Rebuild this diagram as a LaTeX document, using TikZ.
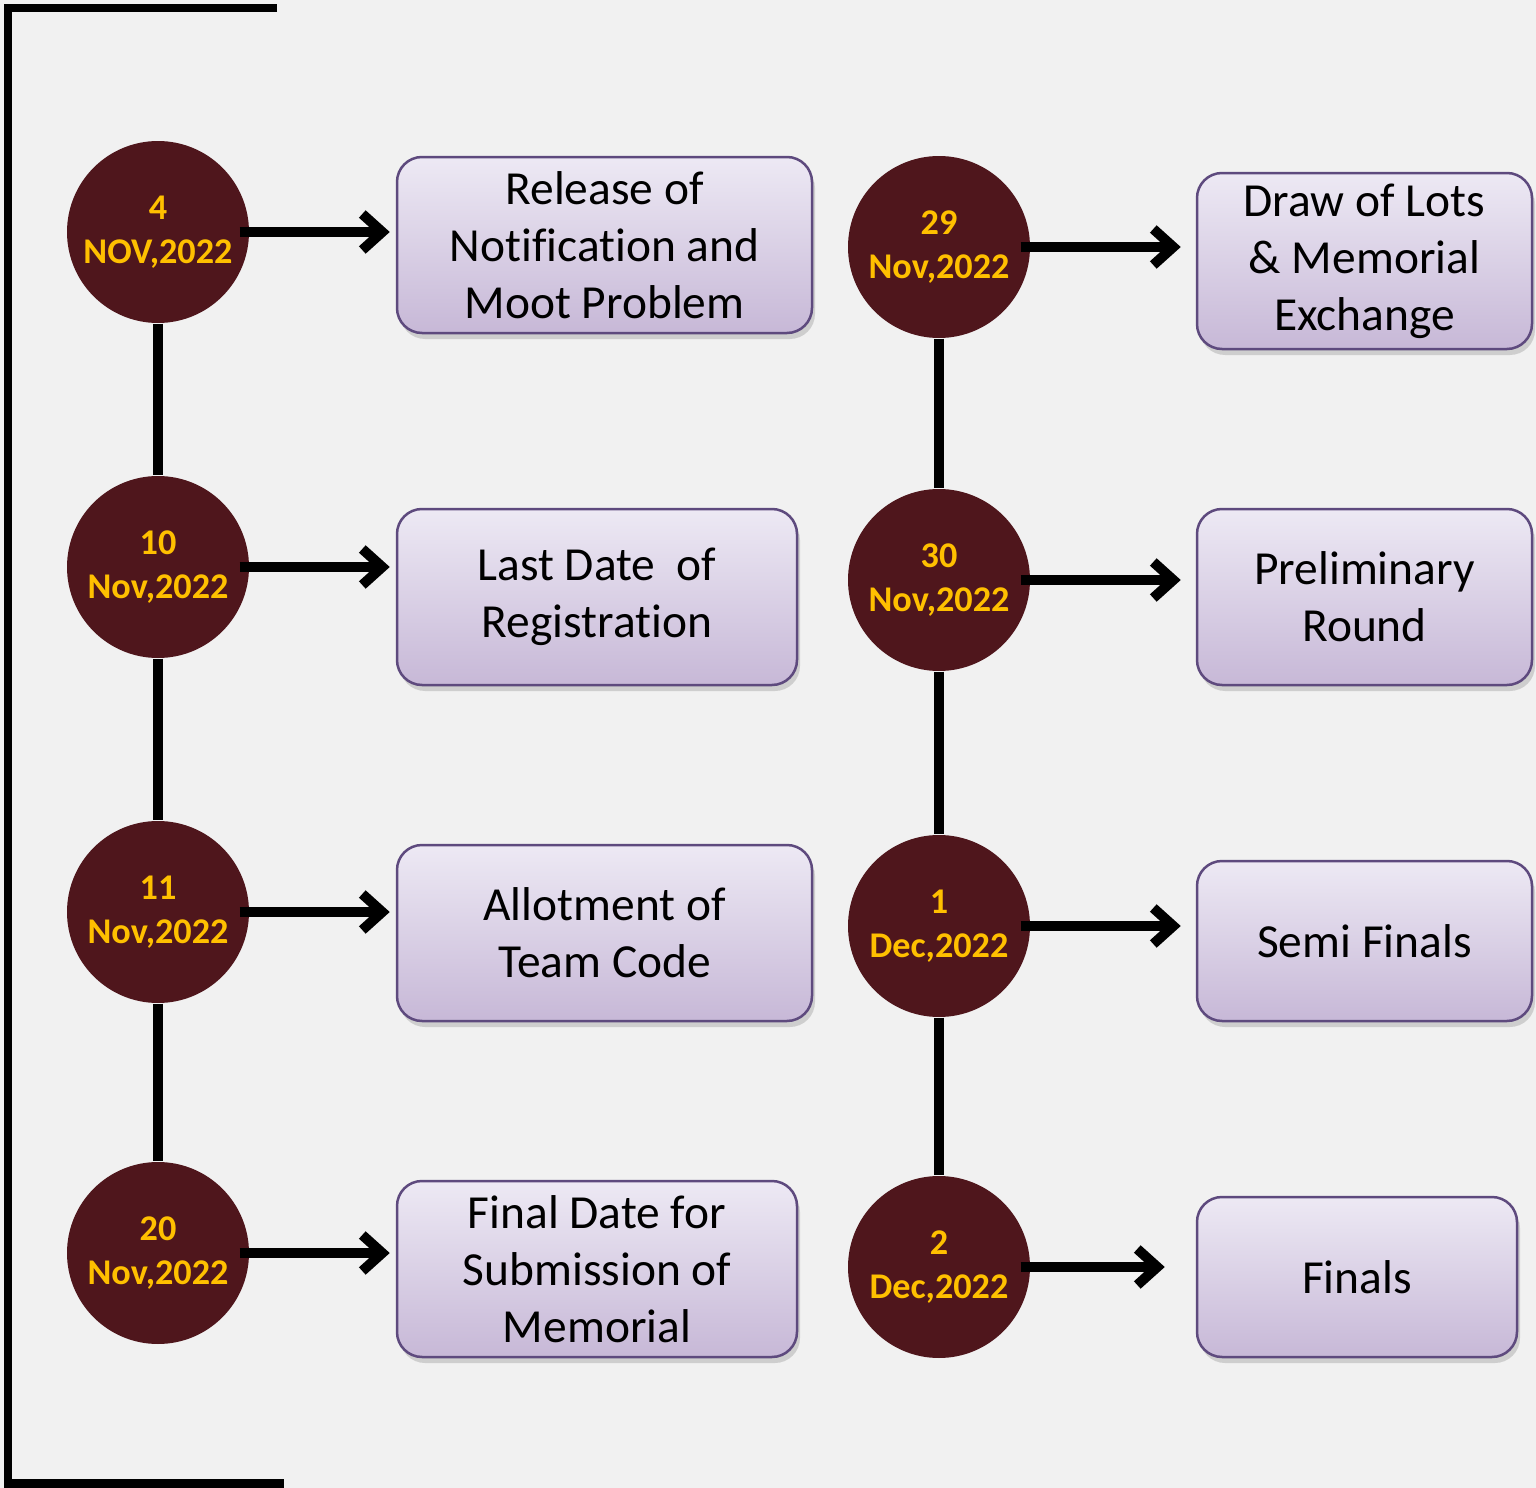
\documentclass[tikz,border=0pt]{standalone}
\usepackage{fontspec}
\setmainfont{Carlito}[Ligatures=CommonOff]
\usetikzlibrary{arrows.meta,shadows}

\definecolor{maroonDot}{HTML}{4F161C}
\definecolor{goldText}{HTML}{FFC000}
\definecolor{boxEdge}{HTML}{5E4A7E}
\definecolor{boxTop}{HTML}{EDE9F4}
\definecolor{boxBottom}{HTML}{C7B8D7}
\definecolor{paper}{HTML}{F1F1F1}

\tikzset{
  dateDot/.style={circle, fill=maroonDot, minimum size=18.2mm, inner sep=0pt,
    text=goldText, font=\fontsize{10.3}{12.5}\selectfont\bfseries, align=center},
  eventBox/.style={rectangle, rounded corners=2.5mm, draw=boxEdge, line width=0.25mm,
    top color=boxTop, bottom color=boxBottom, inner sep=0pt,
    minimum height=17.6mm, align=center, font=\fontsize{13.5}{16.2}\selectfont,
    drop shadow={opacity=0.3, shadow xshift=0.3mm, shadow yshift=-0.6mm}},
  timeLine/.style={line width=1mm},
  stepArrow/.style={line width=1mm, -{Straight Barb[length=2mm,width=3.6mm]}, shorten >=0.6mm}
}

\begin{document}
\begin{tikzpicture}[x=0.1mm, y=-0.1mm]
\useasboundingbox[fill=paper] (0,0) rectangle (1536,1488);
\draw[line width=0.9mm, line join=miter] (277,8) -- (8,8) -- (8,1483) -- (284,1483);

% left column
\node[dateDot](date1) at (158,232){4\\NOV,2022};
\node[dateDot](date2) at (158,567){10\\Nov,2022};
\node[dateDot](date3) at (158,912){11\\Nov,2022};
\node[dateDot](date4) at (158,1253){20\\Nov,2022};
\node[eventBox, minimum width=41.5mm](event1) at (604.5,245){Release of\\Notification and\\Moot Problem};
\node[eventBox, minimum width=40mm](event2) at (597,597){Last Date~~of\\Registration};
\node[eventBox, minimum width=41.5mm](event3) at (604.5,933){Allotment of\\Team Code};
\node[eventBox, minimum width=40mm](event4) at (597,1269){Final Date for\\Submission of\\Memorial};

% right column
\node[dateDot](date5) at (939,247){29\\Nov,2022};
\node[dateDot](date6) at (939,580){30\\Nov,2022};
\node[dateDot](date7) at (939,926){1\\Dec,2022};
\node[dateDot](date8) at (939,1267){2\\Dec,2022};
\node[eventBox, minimum width=33.5mm](event5) at (1364.5,261){Draw of Lots\\\& Memorial\\Exchange};
\node[eventBox, minimum width=33.5mm](event6) at (1364.5,597){Preliminary\\Round};
\node[eventBox, minimum width=33.5mm, minimum height=16mm](event7) at (1364.5,941){Semi Finals};
\node[eventBox, minimum width=32mm, minimum height=16mm](event8) at (1357,1277){Finals};

\draw[timeLine] (date1) -- (date2);
\draw[timeLine] (date2) -- (date3);
\draw[timeLine] (date3) -- (date4);
\draw[timeLine] (date5) -- (date6);
\draw[timeLine] (date6) -- (date7);
\draw[timeLine] (date7) -- (date8);

\foreach \i in {1,...,4}{
  \draw[stepArrow] ([xshift=-1mm]date\i.east) -- (date\i.east -| event\i.west);
}
\foreach \i in {5,...,7}{
  \draw[stepArrow, shorten >=1.5mm] ([xshift=-1mm]date\i.east) -- (date\i.east -| event\i.west);
}
\draw[stepArrow, shorten >=3.1mm] ([xshift=-1mm]date8.east) -- (date8.east -| event8.west);
\end{tikzpicture}
\end{document}
